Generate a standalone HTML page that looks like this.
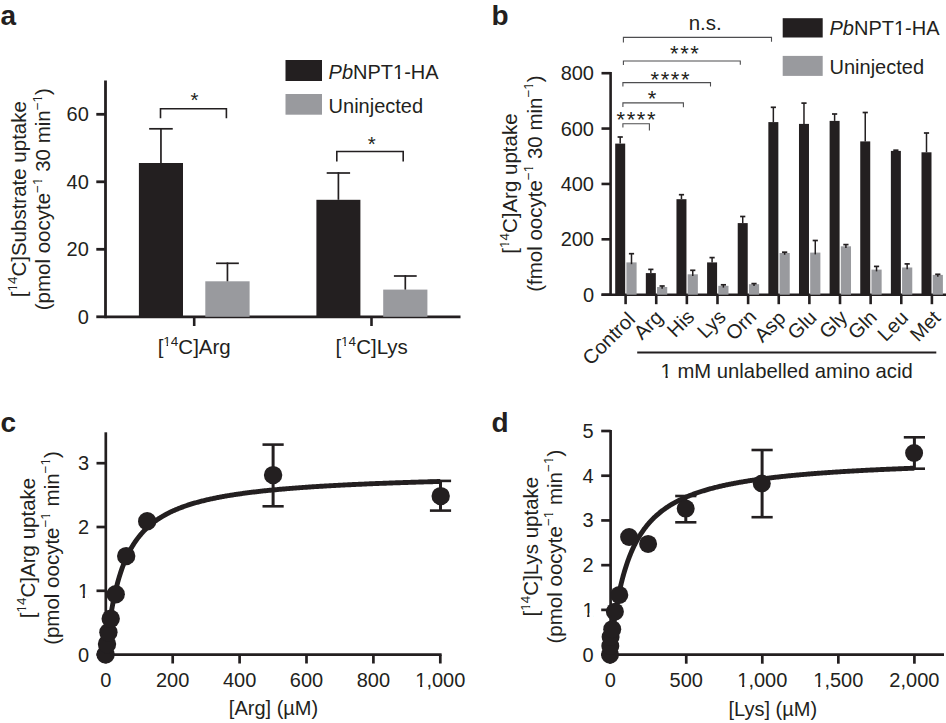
<!DOCTYPE html>
<html><head><meta charset="utf-8"><title>Figure</title>
<style>
html,body{margin:0;padding:0;background:#fff;}
body{width:946px;height:723px;overflow:hidden;}
svg{display:block;}
text{font-family:"Liberation Sans",sans-serif;fill:#231f20;}
</style></head>
<body>
<svg width="946" height="723" viewBox="0 0 946 723">
<rect width="946" height="723" fill="#fff"/>
<text x="0.50" y="24.50" font-size="28" text-anchor="start" font-weight="bold">a</text>
<line x1="105.50" y1="80.50" x2="105.50" y2="318.20" stroke="#231f20" stroke-width="2.8" stroke-linecap="butt"/>
<line x1="96.30" y1="316.80" x2="105.50" y2="316.80" stroke="#231f20" stroke-width="2.8" stroke-linecap="butt"/>
<text x="88.80" y="323.80" font-size="20" text-anchor="end" >0</text>
<line x1="96.30" y1="249.30" x2="105.50" y2="249.30" stroke="#231f20" stroke-width="2.8" stroke-linecap="butt"/>
<text x="88.80" y="256.30" font-size="20" text-anchor="end" >20</text>
<line x1="96.30" y1="181.80" x2="105.50" y2="181.80" stroke="#231f20" stroke-width="2.8" stroke-linecap="butt"/>
<text x="88.80" y="188.80" font-size="20" text-anchor="end" >40</text>
<line x1="96.30" y1="114.30" x2="105.50" y2="114.30" stroke="#231f20" stroke-width="2.8" stroke-linecap="butt"/>
<text x="88.80" y="121.30" font-size="20" text-anchor="end" >60</text>
<line x1="105.50" y1="316.80" x2="460.50" y2="316.80" stroke="#231f20" stroke-width="2.7" stroke-linecap="butt"/>
<line x1="194.20" y1="316.80" x2="194.20" y2="326.00" stroke="#231f20" stroke-width="2.6" stroke-linecap="butt"/>
<line x1="371.50" y1="316.80" x2="371.50" y2="326.00" stroke="#231f20" stroke-width="2.6" stroke-linecap="butt"/>
<rect x="138.90" y="163.00" width="44.10" height="153.80" fill="#231f20"/>
<line x1="160.95" y1="163.00" x2="160.95" y2="128.00" stroke="#231f20" stroke-width="1.7" stroke-linecap="butt"/>
<line x1="149.15" y1="128.80" x2="172.75" y2="128.80" stroke="#231f20" stroke-width="1.7" stroke-linecap="butt"/>
<rect x="205.30" y="281.30" width="44.30" height="35.50" fill="#999a9e"/>
<line x1="227.45" y1="281.30" x2="227.45" y2="262.50" stroke="#231f20" stroke-width="1.7" stroke-linecap="butt"/>
<line x1="216.05" y1="263.30" x2="238.85" y2="263.30" stroke="#231f20" stroke-width="1.7" stroke-linecap="butt"/>
<rect x="316.40" y="199.80" width="44.00" height="117.00" fill="#231f20"/>
<line x1="338.40" y1="199.80" x2="338.40" y2="172.20" stroke="#231f20" stroke-width="1.7" stroke-linecap="butt"/>
<line x1="326.70" y1="173.00" x2="350.10" y2="173.00" stroke="#231f20" stroke-width="1.7" stroke-linecap="butt"/>
<rect x="383.20" y="289.60" width="44.20" height="27.20" fill="#999a9e"/>
<line x1="405.30" y1="289.60" x2="405.30" y2="275.20" stroke="#231f20" stroke-width="1.7" stroke-linecap="butt"/>
<line x1="393.90" y1="276.00" x2="416.70" y2="276.00" stroke="#231f20" stroke-width="1.7" stroke-linecap="butt"/>
<path d="M160.5 118.3 V108.8 H226.4 V118.3" fill="none" stroke="#231f20" stroke-width="1.6"/>
<path d="M336.8 161.6 V151.5 H403.2 V161.6" fill="none" stroke="#231f20" stroke-width="1.6"/>
<text x="194.40" y="107.00" font-size="20.5" text-anchor="middle" >*</text>
<text x="371.80" y="151.00" font-size="20.5" text-anchor="middle" >*</text>
<rect x="285.50" y="60.00" width="36.50" height="21.00" fill="#231f20"/>
<rect x="285.50" y="94.00" width="36.50" height="20.70" fill="#999a9e"/>
<text x="328.60" y="78.90" font-size="20" text-anchor="start" ><tspan font-style="italic">Pb</tspan>NPT1-HA</text>
<text x="328.60" y="113.10" font-size="20" text-anchor="start" >Uninjected</text>
<text x="194.20" y="354.20" font-size="20.5" text-anchor="middle" >[<tspan font-size="13.5" dy="-8.6">14</tspan><tspan dy="8.6">C]</tspan>Arg</text>
<text x="371.60" y="354.20" font-size="20.5" text-anchor="middle" >[<tspan font-size="13.5" dy="-8.6">14</tspan><tspan dy="8.6">C]</tspan>Lys</text>
<g transform="translate(25.7 199.2) rotate(-90)">
<text x="0.00" y="0.00" font-size="20.5" text-anchor="middle" >[<tspan font-size="13.5" dy="-8.6">14</tspan><tspan dy="8.6">C]</tspan>Substrate uptake</text>
<text x="0.00" y="24.60" font-size="20.5" text-anchor="middle" >(pmol oocyte<tspan font-size="13.5" dy="-8.6">−1</tspan><tspan dy="8.6"> 30 min</tspan><tspan font-size="13.5" dy="-8.6">−1</tspan><tspan dy="8.6">)</tspan></text>
</g>
<text x="491.50" y="24.50" font-size="28" text-anchor="start" font-weight="bold">b</text>
<line x1="610.60" y1="72.00" x2="610.60" y2="294.70" stroke="#231f20" stroke-width="2.6" stroke-linecap="butt"/>
<line x1="601.50" y1="294.70" x2="610.60" y2="294.70" stroke="#231f20" stroke-width="2.6" stroke-linecap="butt"/>
<text x="594.00" y="301.70" font-size="20" text-anchor="end" >0</text>
<line x1="601.50" y1="239.32" x2="610.60" y2="239.32" stroke="#231f20" stroke-width="2.6" stroke-linecap="butt"/>
<text x="594.00" y="246.32" font-size="20" text-anchor="end" >200</text>
<line x1="601.50" y1="183.95" x2="610.60" y2="183.95" stroke="#231f20" stroke-width="2.6" stroke-linecap="butt"/>
<text x="594.00" y="190.95" font-size="20" text-anchor="end" >400</text>
<line x1="601.50" y1="128.57" x2="610.60" y2="128.57" stroke="#231f20" stroke-width="2.6" stroke-linecap="butt"/>
<text x="594.00" y="135.57" font-size="20" text-anchor="end" >600</text>
<line x1="601.50" y1="73.20" x2="610.60" y2="73.20" stroke="#231f20" stroke-width="2.6" stroke-linecap="butt"/>
<text x="594.00" y="80.20" font-size="20" text-anchor="end" >800</text>
<line x1="601.50" y1="294.70" x2="946.00" y2="294.70" stroke="#231f20" stroke-width="2.6" stroke-linecap="butt"/>
<rect x="615.20" y="143.60" width="10.00" height="151.10" fill="#231f20"/>
<rect x="626.40" y="262.40" width="10.20" height="32.30" fill="#999a9e"/>
<line x1="620.20" y1="143.60" x2="620.20" y2="137.00" stroke="#231f20" stroke-width="1.5" stroke-linecap="butt"/>
<line x1="617.60" y1="137.00" x2="622.80" y2="137.00" stroke="#231f20" stroke-width="1.7" stroke-linecap="butt"/>
<line x1="631.50" y1="264.20" x2="631.50" y2="253.70" stroke="#231f20" stroke-width="1.5" stroke-linecap="butt"/>
<line x1="628.90" y1="253.70" x2="634.10" y2="253.70" stroke="#231f20" stroke-width="1.7" stroke-linecap="butt"/>
<line x1="625.60" y1="294.70" x2="625.60" y2="304.20" stroke="#231f20" stroke-width="2.6" stroke-linecap="butt"/>
<text transform="translate(636.30 320.70) rotate(-45)" font-size="20" text-anchor="end">Control</text>
<rect x="645.83" y="273.10" width="10.00" height="21.60" fill="#231f20"/>
<rect x="657.03" y="287.00" width="10.20" height="7.70" fill="#999a9e"/>
<line x1="650.83" y1="273.10" x2="650.83" y2="269.40" stroke="#231f20" stroke-width="1.5" stroke-linecap="butt"/>
<line x1="648.23" y1="269.40" x2="653.43" y2="269.40" stroke="#231f20" stroke-width="1.7" stroke-linecap="butt"/>
<line x1="662.13" y1="288.80" x2="662.13" y2="286.00" stroke="#231f20" stroke-width="1.5" stroke-linecap="butt"/>
<line x1="659.53" y1="286.00" x2="664.73" y2="286.00" stroke="#231f20" stroke-width="1.7" stroke-linecap="butt"/>
<line x1="656.23" y1="294.70" x2="656.23" y2="304.20" stroke="#231f20" stroke-width="2.6" stroke-linecap="butt"/>
<text transform="translate(664.03 318.70) rotate(-45)" font-size="20" text-anchor="end">Arg</text>
<rect x="676.46" y="199.20" width="10.00" height="95.50" fill="#231f20"/>
<rect x="687.66" y="274.30" width="10.20" height="20.40" fill="#999a9e"/>
<line x1="681.46" y1="199.20" x2="681.46" y2="194.70" stroke="#231f20" stroke-width="1.5" stroke-linecap="butt"/>
<line x1="678.86" y1="194.70" x2="684.06" y2="194.70" stroke="#231f20" stroke-width="1.7" stroke-linecap="butt"/>
<line x1="692.76" y1="276.10" x2="692.76" y2="270.30" stroke="#231f20" stroke-width="1.5" stroke-linecap="butt"/>
<line x1="690.16" y1="270.30" x2="695.36" y2="270.30" stroke="#231f20" stroke-width="1.7" stroke-linecap="butt"/>
<line x1="686.86" y1="294.70" x2="686.86" y2="304.20" stroke="#231f20" stroke-width="2.6" stroke-linecap="butt"/>
<text transform="translate(695.66 318.10) rotate(-45)" font-size="20" text-anchor="end">His</text>
<rect x="707.09" y="262.40" width="10.00" height="32.30" fill="#231f20"/>
<rect x="718.29" y="285.80" width="10.20" height="8.90" fill="#999a9e"/>
<line x1="712.09" y1="262.40" x2="712.09" y2="257.60" stroke="#231f20" stroke-width="1.5" stroke-linecap="butt"/>
<line x1="709.49" y1="257.60" x2="714.69" y2="257.60" stroke="#231f20" stroke-width="1.7" stroke-linecap="butt"/>
<line x1="723.39" y1="287.60" x2="723.39" y2="284.80" stroke="#231f20" stroke-width="1.5" stroke-linecap="butt"/>
<line x1="720.79" y1="284.80" x2="725.99" y2="284.80" stroke="#231f20" stroke-width="1.7" stroke-linecap="butt"/>
<line x1="717.49" y1="294.70" x2="717.49" y2="304.20" stroke="#231f20" stroke-width="2.6" stroke-linecap="butt"/>
<text transform="translate(726.99 318.10) rotate(-45)" font-size="20" text-anchor="end">Lys</text>
<rect x="737.72" y="223.10" width="10.00" height="71.60" fill="#231f20"/>
<rect x="748.92" y="284.20" width="10.20" height="10.50" fill="#999a9e"/>
<line x1="742.72" y1="223.10" x2="742.72" y2="216.50" stroke="#231f20" stroke-width="1.5" stroke-linecap="butt"/>
<line x1="740.12" y1="216.50" x2="745.32" y2="216.50" stroke="#231f20" stroke-width="1.7" stroke-linecap="butt"/>
<line x1="754.02" y1="286.00" x2="754.02" y2="283.60" stroke="#231f20" stroke-width="1.5" stroke-linecap="butt"/>
<line x1="751.42" y1="283.60" x2="756.62" y2="283.60" stroke="#231f20" stroke-width="1.7" stroke-linecap="butt"/>
<line x1="748.12" y1="294.70" x2="748.12" y2="304.20" stroke="#231f20" stroke-width="2.6" stroke-linecap="butt"/>
<text transform="translate(757.62 317.90) rotate(-45)" font-size="20" text-anchor="end">Orn</text>
<rect x="768.35" y="122.10" width="10.00" height="172.60" fill="#231f20"/>
<rect x="779.55" y="253.00" width="10.20" height="41.70" fill="#999a9e"/>
<line x1="773.35" y1="122.10" x2="773.35" y2="107.30" stroke="#231f20" stroke-width="1.5" stroke-linecap="butt"/>
<line x1="770.75" y1="107.30" x2="775.95" y2="107.30" stroke="#231f20" stroke-width="1.7" stroke-linecap="butt"/>
<line x1="784.65" y1="254.80" x2="784.65" y2="252.20" stroke="#231f20" stroke-width="1.5" stroke-linecap="butt"/>
<line x1="782.05" y1="252.20" x2="787.25" y2="252.20" stroke="#231f20" stroke-width="1.7" stroke-linecap="butt"/>
<line x1="778.75" y1="294.70" x2="778.75" y2="304.20" stroke="#231f20" stroke-width="2.6" stroke-linecap="butt"/>
<text transform="translate(786.75 319.20) rotate(-45)" font-size="20" text-anchor="end">Asp</text>
<rect x="798.98" y="123.90" width="10.00" height="170.80" fill="#231f20"/>
<rect x="810.18" y="252.60" width="10.20" height="42.10" fill="#999a9e"/>
<line x1="803.98" y1="123.90" x2="803.98" y2="103.10" stroke="#231f20" stroke-width="1.5" stroke-linecap="butt"/>
<line x1="801.38" y1="103.10" x2="806.58" y2="103.10" stroke="#231f20" stroke-width="1.7" stroke-linecap="butt"/>
<line x1="815.28" y1="254.40" x2="815.28" y2="240.50" stroke="#231f20" stroke-width="1.5" stroke-linecap="butt"/>
<line x1="812.68" y1="240.50" x2="817.88" y2="240.50" stroke="#231f20" stroke-width="1.7" stroke-linecap="butt"/>
<line x1="809.38" y1="294.70" x2="809.38" y2="304.20" stroke="#231f20" stroke-width="2.6" stroke-linecap="butt"/>
<text transform="translate(817.88 318.80) rotate(-45)" font-size="20" text-anchor="end">Glu</text>
<rect x="829.61" y="120.90" width="10.00" height="173.80" fill="#231f20"/>
<rect x="840.81" y="246.30" width="10.20" height="48.40" fill="#999a9e"/>
<line x1="834.61" y1="120.90" x2="834.61" y2="114.00" stroke="#231f20" stroke-width="1.5" stroke-linecap="butt"/>
<line x1="832.01" y1="114.00" x2="837.21" y2="114.00" stroke="#231f20" stroke-width="1.7" stroke-linecap="butt"/>
<line x1="845.91" y1="248.10" x2="845.91" y2="244.60" stroke="#231f20" stroke-width="1.5" stroke-linecap="butt"/>
<line x1="843.31" y1="244.60" x2="848.51" y2="244.60" stroke="#231f20" stroke-width="1.7" stroke-linecap="butt"/>
<line x1="840.01" y1="294.70" x2="840.01" y2="304.20" stroke="#231f20" stroke-width="2.6" stroke-linecap="butt"/>
<text transform="translate(848.61 318.60) rotate(-45)" font-size="20" text-anchor="end">Gly</text>
<rect x="860.24" y="141.40" width="10.00" height="153.30" fill="#231f20"/>
<rect x="871.44" y="269.60" width="10.20" height="25.10" fill="#999a9e"/>
<line x1="865.24" y1="141.40" x2="865.24" y2="112.50" stroke="#231f20" stroke-width="1.5" stroke-linecap="butt"/>
<line x1="862.64" y1="112.50" x2="867.84" y2="112.50" stroke="#231f20" stroke-width="1.7" stroke-linecap="butt"/>
<line x1="876.54" y1="271.40" x2="876.54" y2="266.40" stroke="#231f20" stroke-width="1.5" stroke-linecap="butt"/>
<line x1="873.94" y1="266.40" x2="879.14" y2="266.40" stroke="#231f20" stroke-width="1.7" stroke-linecap="butt"/>
<line x1="870.64" y1="294.70" x2="870.64" y2="304.20" stroke="#231f20" stroke-width="2.6" stroke-linecap="butt"/>
<text transform="translate(878.24 318.60) rotate(-45)" font-size="20" text-anchor="end">Gln</text>
<rect x="890.87" y="150.90" width="10.00" height="143.80" fill="#231f20"/>
<rect x="902.07" y="267.50" width="10.20" height="27.20" fill="#999a9e"/>
<line x1="895.87" y1="150.90" x2="895.87" y2="150.20" stroke="#231f20" stroke-width="1.5" stroke-linecap="butt"/>
<line x1="893.27" y1="150.20" x2="898.47" y2="150.20" stroke="#231f20" stroke-width="1.7" stroke-linecap="butt"/>
<line x1="907.17" y1="269.30" x2="907.17" y2="263.90" stroke="#231f20" stroke-width="1.5" stroke-linecap="butt"/>
<line x1="904.57" y1="263.90" x2="909.77" y2="263.90" stroke="#231f20" stroke-width="1.7" stroke-linecap="butt"/>
<line x1="901.27" y1="294.70" x2="901.27" y2="304.20" stroke="#231f20" stroke-width="2.6" stroke-linecap="butt"/>
<text transform="translate(909.37 318.90) rotate(-45)" font-size="20" text-anchor="end">Leu</text>
<rect x="921.50" y="152.30" width="10.00" height="142.40" fill="#231f20"/>
<rect x="932.70" y="274.90" width="10.20" height="19.80" fill="#999a9e"/>
<line x1="926.50" y1="152.30" x2="926.50" y2="133.00" stroke="#231f20" stroke-width="1.5" stroke-linecap="butt"/>
<line x1="923.90" y1="133.00" x2="929.10" y2="133.00" stroke="#231f20" stroke-width="1.7" stroke-linecap="butt"/>
<line x1="937.80" y1="276.70" x2="937.80" y2="274.30" stroke="#231f20" stroke-width="1.5" stroke-linecap="butt"/>
<line x1="935.20" y1="274.30" x2="940.40" y2="274.30" stroke="#231f20" stroke-width="1.7" stroke-linecap="butt"/>
<line x1="931.90" y1="294.70" x2="931.90" y2="304.20" stroke="#231f20" stroke-width="2.6" stroke-linecap="butt"/>
<text transform="translate(941.75 319.05) rotate(-45)" font-size="20" text-anchor="end">Met</text>
<path d="M623.4 42.6 V37.4 H771.5 V41.8" fill="none" stroke="#4d4d4f" stroke-width="1.1"/>
<path d="M623.4 65.0 V61.0 H740.3 V64.8" fill="none" stroke="#4d4d4f" stroke-width="1.1"/>
<path d="M622.9 86.6 V82.6 H710.5 V86.6" fill="none" stroke="#4d4d4f" stroke-width="1.1"/>
<path d="M622.9 106.9 V102.9 H683.4 V107.2" fill="none" stroke="#4d4d4f" stroke-width="1.1"/>
<path d="M622.9 127.5 V123.7 H649.4 V130.6" fill="none" stroke="#4d4d4f" stroke-width="1.1"/>
<text x="705.20" y="29.90" font-size="20.5" text-anchor="middle" >n.s.</text>
<g letter-spacing="1.6">
<text x="685.30" y="60.80" font-size="22" text-anchor="middle" >***</text>
<text x="670.80" y="86.60" font-size="22" text-anchor="middle" >****</text>
<text x="652.80" y="105.60" font-size="22" text-anchor="middle" >*</text>
<text x="636.80" y="127.00" font-size="22" text-anchor="middle" >****</text>
</g>
<rect x="782.70" y="18.20" width="40.00" height="19.30" fill="#231f20"/>
<rect x="782.70" y="55.90" width="40.00" height="20.00" fill="#999a9e"/>
<text x="829.50" y="35.10" font-size="20" text-anchor="start" ><tspan font-style="italic">Pb</tspan>NPT1-HA</text>
<text x="829.50" y="73.60" font-size="20" text-anchor="start" >Uninjected</text>
<line x1="637.20" y1="352.50" x2="936.30" y2="352.50" stroke="#231f20" stroke-width="2.2" stroke-linecap="butt"/>
<text x="660.60" y="378.00" font-size="20.25" text-anchor="start" >1 mM unlabelled amino acid</text>
<g transform="translate(517.4 183.6) rotate(-90)">
<text x="0.00" y="0.00" font-size="20.5" text-anchor="middle" >[<tspan font-size="13.5" dy="-8.6">14</tspan><tspan dy="8.6">C]</tspan>Arg uptake</text>
<text x="0.00" y="24.20" font-size="20.5" text-anchor="middle" >(fmol oocyte<tspan font-size="13.5" dy="-8.6">−1</tspan><tspan dy="8.6"> 30 min</tspan><tspan font-size="13.5" dy="-8.6">−1</tspan><tspan dy="8.6">)</tspan></text>
</g>
<text x="0.50" y="432.00" font-size="28" text-anchor="start" font-weight="bold">c</text>
<line x1="105.80" y1="432.30" x2="105.80" y2="654.60" stroke="#231f20" stroke-width="2.7" stroke-linecap="butt"/>
<line x1="96.50" y1="654.60" x2="105.80" y2="654.60" stroke="#231f20" stroke-width="2.7" stroke-linecap="butt"/>
<text x="89.00" y="661.60" font-size="20" text-anchor="end" >0</text>
<line x1="96.50" y1="590.80" x2="105.80" y2="590.80" stroke="#231f20" stroke-width="2.7" stroke-linecap="butt"/>
<text x="89.00" y="597.80" font-size="20" text-anchor="end" >1</text>
<line x1="96.50" y1="527.00" x2="105.80" y2="527.00" stroke="#231f20" stroke-width="2.7" stroke-linecap="butt"/>
<text x="89.00" y="534.00" font-size="20" text-anchor="end" >2</text>
<line x1="96.50" y1="463.20" x2="105.80" y2="463.20" stroke="#231f20" stroke-width="2.7" stroke-linecap="butt"/>
<text x="89.00" y="470.20" font-size="20" text-anchor="end" >3</text>
<line x1="105.80" y1="654.60" x2="441.60" y2="654.60" stroke="#231f20" stroke-width="2.7" stroke-linecap="butt"/>
<line x1="105.80" y1="654.60" x2="105.80" y2="663.50" stroke="#231f20" stroke-width="2.7" stroke-linecap="butt"/>
<text x="105.80" y="686.60" font-size="20" text-anchor="middle" >0</text>
<line x1="172.70" y1="654.60" x2="172.70" y2="663.50" stroke="#231f20" stroke-width="2.7" stroke-linecap="butt"/>
<text x="172.70" y="686.60" font-size="20" text-anchor="middle" >200</text>
<line x1="239.60" y1="654.60" x2="239.60" y2="663.50" stroke="#231f20" stroke-width="2.7" stroke-linecap="butt"/>
<text x="239.60" y="686.60" font-size="20" text-anchor="middle" >400</text>
<line x1="306.50" y1="654.60" x2="306.50" y2="663.50" stroke="#231f20" stroke-width="2.7" stroke-linecap="butt"/>
<text x="306.50" y="686.60" font-size="20" text-anchor="middle" >600</text>
<line x1="373.40" y1="654.60" x2="373.40" y2="663.50" stroke="#231f20" stroke-width="2.7" stroke-linecap="butt"/>
<text x="373.40" y="686.60" font-size="20" text-anchor="middle" >800</text>
<line x1="440.30" y1="654.60" x2="440.30" y2="663.50" stroke="#231f20" stroke-width="2.7" stroke-linecap="butt"/>
<text x="440.30" y="686.60" font-size="20" text-anchor="middle" >1,000</text>
<text x="273.50" y="715.00" font-size="20" text-anchor="middle" >[Arg] (µM)</text>
<path d="M105.80 654.60 L105.82 654.37 L105.87 653.90 L105.93 653.27 L106.01 652.50 L106.10 651.62 L106.20 650.63 L106.32 649.55 L106.44 648.39 L106.57 647.15 L106.71 645.85 L106.86 644.49 L107.02 643.08 L107.19 641.61 L107.37 640.11 L107.55 638.57 L107.74 636.99 L107.94 635.38 L108.14 633.75 L108.35 632.10 L108.57 630.43 L108.80 628.75 L109.03 627.05 L109.27 625.35 L109.51 623.64 L109.76 621.92 L110.02 620.20 L110.28 618.49 L110.55 616.77 L110.82 615.06 L111.10 613.35 L111.39 611.65 L111.68 609.96 L111.98 608.28 L112.28 606.61 L112.59 604.95 L112.90 603.31 L113.22 601.68 L113.54 600.06 L113.87 598.46 L114.20 596.87 L114.54 595.30 L114.88 593.74 L115.23 592.21 L115.59 590.69 L115.94 589.19 L116.31 587.70 L116.68 586.24 L117.05 584.79 L117.43 583.36 L117.81 581.96 L118.19 580.57 L118.59 579.19 L118.98 577.84 L119.38 576.51 L119.79 575.19 L120.19 573.90 L120.61 572.62 L121.03 571.36 L121.45 570.12 L121.87 568.90 L122.31 567.70 L122.74 566.51 L123.18 565.35 L123.62 564.20 L124.07 563.06 L124.52 561.95 L124.98 560.85 L125.44 559.77 L125.90 558.71 L126.37 557.66 L126.84 556.63 L127.32 555.62 L127.80 554.62 L128.28 553.63 L128.77 552.67 L129.26 551.71 L129.76 550.78 L130.26 549.85 L130.76 548.94 L131.27 548.05 L131.78 547.17 L132.30 546.30 L132.82 545.45 L133.34 544.61 L133.87 543.79 L134.40 542.97 L134.93 542.17 L135.47 541.38 L136.01 540.61 L136.55 539.84 L137.10 539.09 L137.65 538.35 L138.21 537.62 L138.77 536.91 L139.33 536.20 L139.90 535.51 L140.47 534.82 L141.04 534.15 L141.62 533.48 L142.20 532.83 L142.78 532.19 L143.37 531.55 L143.96 530.93 L144.56 530.31 L145.16 529.71 L145.76 529.11 L146.36 528.52 L146.97 527.95 L147.58 527.38 L148.20 526.81 L148.81 526.26 L149.44 525.72 L150.06 525.18 L150.69 524.65 L151.32 524.13 L151.96 523.61 L152.59 523.11 L153.24 522.61 L153.88 522.12 L154.53 521.63 L155.18 521.15 L155.84 520.68 L156.49 520.22 L157.15 519.76 L157.82 519.31 L158.49 518.86 L159.16 518.42 L159.83 517.99 L160.51 517.57 L161.19 517.14 L161.87 516.73 L162.56 516.32 L163.25 515.92 L163.94 515.52 L164.63 515.13 L165.33 514.74 L166.04 514.36 L166.74 513.98 L167.45 513.61 L168.16 513.24 L168.87 512.88 L169.59 512.52 L170.31 512.17 L171.03 511.82 L171.76 511.48 L172.49 511.14 L173.22 510.81 L173.96 510.48 L174.70 510.15 L175.44 509.83 L176.18 509.51 L176.93 509.20 L177.68 508.89 L178.43 508.58 L179.19 508.28 L179.95 507.98 L180.71 507.69 L181.47 507.40 L182.24 507.11 L183.01 506.83 L183.79 506.55 L184.56 506.27 L185.34 506.00 L186.12 505.73 L186.91 505.46 L187.70 505.20 L188.49 504.94 L189.28 504.69 L190.08 504.43 L190.88 504.18 L191.68 503.93 L192.49 503.69 L193.29 503.45 L194.10 503.21 L194.92 502.97 L195.73 502.74 L196.55 502.51 L197.37 502.28 L198.20 502.05 L199.03 501.83 L199.86 501.61 L200.69 501.39 L201.52 501.18 L202.36 500.97 L203.20 500.76 L204.05 500.55 L204.89 500.34 L205.74 500.14 L206.60 499.94 L207.45 499.74 L208.31 499.54 L209.17 499.35 L210.03 499.16 L210.90 498.97 L211.76 498.78 L212.63 498.59 L213.51 498.41 L214.38 498.23 L215.26 498.05 L216.14 497.87 L217.03 497.69 L217.91 497.52 L218.80 497.34 L219.70 497.17 L220.59 497.00 L221.49 496.84 L222.39 496.67 L223.29 496.51 L224.20 496.35 L225.10 496.19 L226.01 496.03 L226.93 495.87 L227.84 495.71 L228.76 495.56 L229.68 495.41 L230.60 495.26 L231.53 495.11 L232.46 494.96 L233.39 494.82 L234.32 494.67 L235.26 494.53 L236.20 494.39 L237.14 494.24 L238.08 494.11 L239.03 493.97 L239.98 493.83 L240.93 493.70 L241.88 493.56 L242.84 493.43 L243.80 493.30 L244.76 493.17 L245.72 493.04 L246.69 492.91 L247.66 492.79 L248.63 492.66 L249.60 492.54 L250.58 492.42 L251.55 492.29 L252.54 492.17 L253.52 492.05 L254.51 491.94 L255.49 491.82 L256.49 491.70 L257.48 491.59 L258.47 491.47 L259.47 491.36 L260.47 491.25 L261.48 491.14 L262.48 491.03 L263.49 490.92 L264.50 490.81 L265.51 490.71 L266.53 490.60 L267.55 490.50 L268.57 490.39 L269.59 490.29 L270.61 490.19 L271.64 490.09 L272.67 489.99 L273.70 489.89 L274.74 489.79 L275.77 489.69 L276.81 489.59 L277.85 489.50 L278.90 489.40 L279.94 489.31 L280.99 489.21 L282.04 489.12 L283.10 489.03 L284.15 488.94 L285.21 488.85 L286.27 488.76 L287.34 488.67 L288.40 488.58 L289.47 488.49 L290.54 488.41 L291.61 488.32 L292.68 488.24 L293.76 488.15 L294.84 488.07 L295.92 487.99 L297.00 487.90 L298.09 487.82 L299.18 487.74 L300.27 487.66 L301.36 487.58 L302.46 487.50 L303.56 487.42 L304.66 487.35 L305.76 487.27 L306.86 487.19 L307.97 487.12 L309.08 487.04 L310.19 486.97 L311.30 486.89 L312.42 486.82 L313.54 486.74 L314.66 486.67 L315.78 486.60 L316.90 486.53 L318.03 486.46 L319.16 486.39 L320.29 486.32 L321.42 486.25 L322.56 486.18 L323.70 486.11 L324.84 486.05 L325.98 485.98 L327.13 485.91 L328.27 485.85 L329.42 485.78 L330.57 485.72 L331.73 485.65 L332.88 485.59 L334.04 485.52 L335.20 485.46 L336.37 485.40 L337.53 485.34 L338.70 485.27 L339.87 485.21 L341.04 485.15 L342.21 485.09 L343.39 485.03 L344.57 484.97 L345.75 484.91 L346.93 484.85 L348.11 484.80 L349.30 484.74 L350.49 484.68 L351.68 484.62 L352.87 484.57 L354.07 484.51 L355.27 484.46 L356.47 484.40 L357.67 484.35 L358.87 484.29 L360.08 484.24 L361.29 484.18 L362.50 484.13 L363.71 484.08 L364.92 484.02 L366.14 483.97 L367.36 483.92 L368.58 483.87 L369.80 483.82 L371.03 483.77 L372.26 483.72 L373.49 483.67 L374.72 483.62 L375.95 483.57 L377.19 483.52 L378.43 483.47 L379.67 483.42 L380.91 483.37 L382.15 483.33 L383.40 483.28 L384.65 483.23 L385.90 483.18 L387.15 483.14 L388.41 483.09 L389.66 483.05 L390.92 483.00 L392.19 482.95 L393.45 482.91 L394.71 482.86 L395.98 482.82 L397.25 482.78 L398.52 482.73 L399.80 482.69 L401.07 482.65 L402.35 482.60 L403.63 482.56 L404.91 482.52 L406.20 482.48 L407.48 482.43 L408.77 482.39 L410.06 482.35 L411.35 482.31 L412.65 482.27 L413.94 482.23 L415.24 482.19 L416.54 482.15 L417.85 482.11 L419.15 482.07 L420.46 482.03 L421.77 481.99 L423.08 481.95 L424.39 481.91 L425.70 481.88 L427.02 481.84 L428.34 481.80 L429.66 481.76 L430.98 481.72 L432.31 481.69 L433.64 481.65 L434.96 481.61 L436.30 481.58 L437.63 481.54 L438.96 481.50 L440.30 481.47" fill="none" stroke="#231f20" stroke-width="4.9"/>
<line x1="273.10" y1="444.60" x2="273.10" y2="506.30" stroke="#231f20" stroke-width="3.0" stroke-linecap="butt"/>
<line x1="262.50" y1="444.60" x2="283.70" y2="444.60" stroke="#231f20" stroke-width="2.6" stroke-linecap="butt"/>
<line x1="262.50" y1="506.30" x2="283.70" y2="506.30" stroke="#231f20" stroke-width="2.6" stroke-linecap="butt"/>
<line x1="440.50" y1="480.90" x2="440.50" y2="510.60" stroke="#231f20" stroke-width="3.0" stroke-linecap="butt"/>
<line x1="429.90" y1="480.90" x2="451.10" y2="480.90" stroke="#231f20" stroke-width="2.6" stroke-linecap="butt"/>
<line x1="429.90" y1="510.60" x2="451.10" y2="510.60" stroke="#231f20" stroke-width="2.6" stroke-linecap="butt"/>
<circle cx="105.60" cy="654.40" r="9.2" fill="#231f20"/>
<circle cx="107.00" cy="644.00" r="9.2" fill="#231f20"/>
<circle cx="108.40" cy="632.30" r="9.2" fill="#231f20"/>
<circle cx="110.70" cy="618.70" r="9.2" fill="#231f20"/>
<circle cx="115.70" cy="594.20" r="9.2" fill="#231f20"/>
<circle cx="126.20" cy="556.10" r="9.2" fill="#231f20"/>
<circle cx="147.20" cy="521.30" r="9.2" fill="#231f20"/>
<circle cx="273.10" cy="475.10" r="9.2" fill="#231f20"/>
<circle cx="440.70" cy="496.10" r="9.2" fill="#231f20"/>
<g transform="translate(34.8 548) rotate(-90)">
<text x="0.00" y="0.00" font-size="20.5" text-anchor="middle" >[<tspan font-size="13.5" dy="-8.6">14</tspan><tspan dy="8.6">C]</tspan>Arg uptake</text>
<text x="0.00" y="23.90" font-size="20.5" text-anchor="middle" >(pmol oocyte<tspan font-size="13.5" dy="-8.6">−1</tspan><tspan dy="8.6"> min</tspan><tspan font-size="13.5" dy="-8.6">−1</tspan><tspan dy="8.6">)</tspan></text>
</g>
<text x="491.50" y="432.00" font-size="28" text-anchor="start" font-weight="bold">d</text>
<line x1="610.60" y1="430.00" x2="610.60" y2="654.60" stroke="#231f20" stroke-width="2.7" stroke-linecap="butt"/>
<line x1="601.20" y1="654.60" x2="610.60" y2="654.60" stroke="#231f20" stroke-width="2.7" stroke-linecap="butt"/>
<text x="593.50" y="661.60" font-size="20" text-anchor="end" >0</text>
<line x1="601.20" y1="609.88" x2="610.60" y2="609.88" stroke="#231f20" stroke-width="2.7" stroke-linecap="butt"/>
<text x="593.50" y="616.88" font-size="20" text-anchor="end" >1</text>
<line x1="601.20" y1="565.16" x2="610.60" y2="565.16" stroke="#231f20" stroke-width="2.7" stroke-linecap="butt"/>
<text x="593.50" y="572.16" font-size="20" text-anchor="end" >2</text>
<line x1="601.20" y1="520.44" x2="610.60" y2="520.44" stroke="#231f20" stroke-width="2.7" stroke-linecap="butt"/>
<text x="593.50" y="527.44" font-size="20" text-anchor="end" >3</text>
<line x1="601.20" y1="475.72" x2="610.60" y2="475.72" stroke="#231f20" stroke-width="2.7" stroke-linecap="butt"/>
<text x="593.50" y="482.72" font-size="20" text-anchor="end" >4</text>
<line x1="601.20" y1="431.00" x2="610.60" y2="431.00" stroke="#231f20" stroke-width="2.7" stroke-linecap="butt"/>
<text x="593.50" y="438.00" font-size="20" text-anchor="end" >5</text>
<line x1="610.60" y1="654.60" x2="944.00" y2="654.60" stroke="#231f20" stroke-width="2.7" stroke-linecap="butt"/>
<line x1="610.20" y1="654.60" x2="610.20" y2="663.70" stroke="#231f20" stroke-width="2.7" stroke-linecap="butt"/>
<text x="610.20" y="686.80" font-size="20" text-anchor="middle" >0</text>
<line x1="686.25" y1="654.60" x2="686.25" y2="663.70" stroke="#231f20" stroke-width="2.7" stroke-linecap="butt"/>
<text x="686.25" y="686.80" font-size="20" text-anchor="middle" >500</text>
<line x1="762.30" y1="654.60" x2="762.30" y2="663.70" stroke="#231f20" stroke-width="2.7" stroke-linecap="butt"/>
<text x="762.30" y="686.80" font-size="20" text-anchor="middle" >1,000</text>
<line x1="838.35" y1="654.60" x2="838.35" y2="663.70" stroke="#231f20" stroke-width="2.7" stroke-linecap="butt"/>
<text x="838.35" y="686.80" font-size="20" text-anchor="middle" >1,500</text>
<line x1="914.40" y1="654.60" x2="914.40" y2="663.70" stroke="#231f20" stroke-width="2.7" stroke-linecap="butt"/>
<text x="914.40" y="686.80" font-size="20" text-anchor="middle" >2,000</text>
<text x="772.80" y="716.30" font-size="20" text-anchor="middle" >[Lys] (µM)</text>
<path d="M610.20 654.60 L610.22 654.39 L610.26 653.97 L610.32 653.39 L610.39 652.69 L610.47 651.88 L610.57 650.98 L610.67 649.99 L610.78 648.92 L610.90 647.79 L611.03 646.59 L611.17 645.33 L611.31 644.02 L611.47 642.66 L611.62 641.26 L611.79 639.82 L611.96 638.34 L612.14 636.83 L612.33 635.29 L612.52 633.73 L612.72 632.15 L612.93 630.55 L613.14 628.93 L613.35 627.30 L613.57 625.65 L613.80 624.00 L614.04 622.34 L614.27 620.68 L614.52 619.01 L614.77 617.34 L615.02 615.67 L615.28 614.00 L615.55 612.34 L615.82 610.67 L616.09 609.02 L616.37 607.37 L616.66 605.73 L616.95 604.10 L617.24 602.47 L617.54 600.86 L617.84 599.26 L618.15 597.67 L618.46 596.09 L618.78 594.52 L619.10 592.97 L619.43 591.43 L619.76 589.91 L620.09 588.40 L620.43 586.90 L620.77 585.42 L621.12 583.96 L621.47 582.51 L621.83 581.08 L622.19 579.66 L622.55 578.26 L622.92 576.88 L623.29 575.51 L623.67 574.16 L624.05 572.82 L624.43 571.50 L624.82 570.20 L625.21 568.92 L625.61 567.65 L626.01 566.39 L626.41 565.16 L626.82 563.93 L627.23 562.73 L627.64 561.54 L628.06 560.37 L628.48 559.21 L628.91 558.07 L629.34 556.94 L629.77 555.83 L630.21 554.74 L630.65 553.66 L631.09 552.59 L631.54 551.54 L631.99 550.50 L632.44 549.48 L632.90 548.48 L633.36 547.48 L633.83 546.50 L634.30 545.54 L634.77 544.58 L635.24 543.64 L635.72 542.72 L636.21 541.81 L636.69 540.91 L637.18 540.02 L637.67 539.14 L638.17 538.28 L638.67 537.43 L639.17 536.59 L639.67 535.77 L640.18 534.95 L640.69 534.15 L641.21 533.35 L641.73 532.57 L642.25 531.80 L642.77 531.04 L643.30 530.29 L643.83 529.56 L644.37 528.83 L644.91 528.11 L645.45 527.40 L645.99 526.70 L646.54 526.01 L647.09 525.33 L647.64 524.66 L648.20 524.00 L648.76 523.35 L649.32 522.71 L649.88 522.08 L650.45 521.45 L651.02 520.83 L651.60 520.22 L652.18 519.62 L652.76 519.03 L653.34 518.45 L653.93 517.87 L654.52 517.30 L655.11 516.74 L655.70 516.19 L656.30 515.64 L656.90 515.10 L657.51 514.57 L658.11 514.05 L658.72 513.53 L659.34 513.02 L659.95 512.51 L660.57 512.02 L661.19 511.52 L661.82 511.04 L662.44 510.56 L663.07 510.09 L663.71 509.62 L664.34 509.16 L664.98 508.71 L665.62 508.26 L666.26 507.81 L666.91 507.37 L667.56 506.94 L668.21 506.52 L668.87 506.09 L669.53 505.68 L670.19 505.27 L670.85 504.86 L671.52 504.46 L672.18 504.06 L672.86 503.67 L673.53 503.29 L674.21 502.90 L674.89 502.53 L675.57 502.16 L676.25 501.79 L676.94 501.42 L677.63 501.06 L678.32 500.71 L679.02 500.36 L679.72 500.01 L680.42 499.67 L681.12 499.33 L681.83 499.00 L682.54 498.67 L683.25 498.34 L683.96 498.02 L684.68 497.70 L685.40 497.38 L686.12 497.07 L686.84 496.76 L687.57 496.46 L688.30 496.16 L689.03 495.86 L689.77 495.56 L690.50 495.27 L691.24 494.99 L691.99 494.70 L692.73 494.42 L693.48 494.14 L694.23 493.87 L694.98 493.59 L695.74 493.32 L696.49 493.06 L697.25 492.80 L698.02 492.53 L698.78 492.28 L699.55 492.02 L700.32 491.77 L701.09 491.52 L701.86 491.27 L702.64 491.03 L703.42 490.79 L704.20 490.55 L704.99 490.31 L705.78 490.08 L706.56 489.85 L707.36 489.62 L708.15 489.39 L708.95 489.17 L709.75 488.95 L710.55 488.73 L711.35 488.51 L712.16 488.29 L712.97 488.08 L713.78 487.87 L714.59 487.66 L715.41 487.46 L716.23 487.25 L717.05 487.05 L717.87 486.85 L718.70 486.65 L719.52 486.45 L720.35 486.26 L721.19 486.07 L722.02 485.88 L722.86 485.69 L723.70 485.50 L724.54 485.32 L725.38 485.13 L726.23 484.95 L727.08 484.77 L727.93 484.60 L728.78 484.42 L729.64 484.24 L730.50 484.07 L731.36 483.90 L732.22 483.73 L733.09 483.56 L733.95 483.40 L734.82 483.23 L735.70 483.07 L736.57 482.91 L737.45 482.75 L738.32 482.59 L739.21 482.43 L740.09 482.28 L740.97 482.12 L741.86 481.97 L742.75 481.82 L743.64 481.67 L744.54 481.52 L745.44 481.37 L746.33 481.23 L747.24 481.08 L748.14 480.94 L749.04 480.79 L749.95 480.65 L750.86 480.51 L751.77 480.38 L752.69 480.24 L753.61 480.10 L754.52 479.97 L755.45 479.83 L756.37 479.70 L757.29 479.57 L758.22 479.44 L759.15 479.31 L760.08 479.18 L761.02 479.06 L761.95 478.93 L762.89 478.81 L763.83 478.68 L764.78 478.56 L765.72 478.44 L766.67 478.32 L767.62 478.20 L768.57 478.08 L769.52 477.96 L770.48 477.85 L771.44 477.73 L772.40 477.62 L773.36 477.50 L774.32 477.39 L775.29 477.28 L776.26 477.17 L777.23 477.06 L778.20 476.95 L779.18 476.84 L780.16 476.74 L781.13 476.63 L782.12 476.52 L783.10 476.42 L784.08 476.32 L785.07 476.21 L786.06 476.11 L787.05 476.01 L788.05 475.91 L789.04 475.81 L790.04 475.71 L791.04 475.61 L792.04 475.52 L793.05 475.42 L794.06 475.32 L795.06 475.23 L796.07 475.13 L797.09 475.04 L798.10 474.95 L799.12 474.86 L800.14 474.76 L801.16 474.67 L802.18 474.58 L803.21 474.49 L804.23 474.41 L805.26 474.32 L806.29 474.23 L807.33 474.14 L808.36 474.06 L809.40 473.97 L810.44 473.89 L811.48 473.80 L812.52 473.72 L813.57 473.64 L814.61 473.56 L815.66 473.47 L816.71 473.39 L817.77 473.31 L818.82 473.23 L819.88 473.15 L820.94 473.08 L822.00 473.00 L823.06 472.92 L824.13 472.84 L825.20 472.77 L826.27 472.69 L827.34 472.62 L828.41 472.54 L829.49 472.47 L830.56 472.39 L831.64 472.32 L832.72 472.25 L833.81 472.17 L834.89 472.10 L835.98 472.03 L837.07 471.96 L838.16 471.89 L839.25 471.82 L840.35 471.75 L841.44 471.68 L842.54 471.62 L843.64 471.55 L844.75 471.48 L845.85 471.41 L846.96 471.35 L848.07 471.28 L849.18 471.22 L850.29 471.15 L851.40 471.09 L852.52 471.02 L853.64 470.96 L854.76 470.90 L855.88 470.83 L857.01 470.77 L858.13 470.71 L859.26 470.65 L860.39 470.59 L861.52 470.53 L862.65 470.47 L863.79 470.41 L864.93 470.35 L866.07 470.29 L867.21 470.23 L868.35 470.17 L869.50 470.11 L870.64 470.05 L871.79 470.00 L872.94 469.94 L874.10 469.88 L875.25 469.83 L876.41 469.77 L877.57 469.72 L878.73 469.66 L879.89 469.61 L881.05 469.55 L882.22 469.50 L883.39 469.44 L884.56 469.39 L885.73 469.34 L886.90 469.29 L888.08 469.23 L889.25 469.18 L890.43 469.13 L891.61 469.08 L892.80 469.03 L893.98 468.98 L895.17 468.93 L896.35 468.88 L897.54 468.83 L898.74 468.78 L899.93 468.73 L901.13 468.68 L902.32 468.63 L903.52 468.58 L904.72 468.53 L905.93 468.49 L907.13 468.44 L908.34 468.39 L909.55 468.35 L910.76 468.30 L911.97 468.25 L913.18 468.21 L914.40 468.16" fill="none" stroke="#231f20" stroke-width="4.9"/>
<line x1="685.80" y1="496.00" x2="685.80" y2="522.30" stroke="#231f20" stroke-width="3.0" stroke-linecap="butt"/>
<line x1="675.20" y1="496.00" x2="696.40" y2="496.00" stroke="#231f20" stroke-width="2.6" stroke-linecap="butt"/>
<line x1="675.20" y1="522.30" x2="696.40" y2="522.30" stroke="#231f20" stroke-width="2.6" stroke-linecap="butt"/>
<line x1="762.10" y1="450.00" x2="762.10" y2="517.20" stroke="#231f20" stroke-width="3.0" stroke-linecap="butt"/>
<line x1="751.50" y1="450.00" x2="772.70" y2="450.00" stroke="#231f20" stroke-width="2.6" stroke-linecap="butt"/>
<line x1="751.50" y1="517.20" x2="772.70" y2="517.20" stroke="#231f20" stroke-width="2.6" stroke-linecap="butt"/>
<line x1="914.40" y1="437.30" x2="914.40" y2="468.70" stroke="#231f20" stroke-width="3.0" stroke-linecap="butt"/>
<line x1="903.80" y1="437.30" x2="925.00" y2="437.30" stroke="#231f20" stroke-width="2.6" stroke-linecap="butt"/>
<line x1="903.80" y1="468.70" x2="925.00" y2="468.70" stroke="#231f20" stroke-width="2.6" stroke-linecap="butt"/>
<circle cx="610.00" cy="654.70" r="9.0" fill="#231f20"/>
<circle cx="610.30" cy="646.00" r="9.0" fill="#231f20"/>
<circle cx="610.60" cy="637.00" r="9.0" fill="#231f20"/>
<circle cx="612.20" cy="629.20" r="9.0" fill="#231f20"/>
<circle cx="614.90" cy="611.70" r="9.0" fill="#231f20"/>
<circle cx="619.30" cy="594.90" r="9.0" fill="#231f20"/>
<circle cx="629.10" cy="537.00" r="9.0" fill="#231f20"/>
<circle cx="648.10" cy="543.90" r="9.0" fill="#231f20"/>
<circle cx="685.70" cy="508.60" r="9.0" fill="#231f20"/>
<circle cx="761.80" cy="483.50" r="9.0" fill="#231f20"/>
<circle cx="914.10" cy="453.00" r="9.0" fill="#231f20"/>
<g transform="translate(538.2 546.6) rotate(-90)">
<text x="0.00" y="0.00" font-size="20.5" text-anchor="middle" >[<tspan font-size="13.5" dy="-8.6">14</tspan><tspan dy="8.6">C]</tspan>Lys uptake</text>
<text x="0.00" y="23.90" font-size="20.5" text-anchor="middle" >(pmol oocyte<tspan font-size="13.5" dy="-8.6">−1</tspan><tspan dy="8.6"> min</tspan><tspan font-size="13.5" dy="-8.6">−1</tspan><tspan dy="8.6">)</tspan></text>
</g>
<polygon points="393.65,74.99 397.87,74.99 397.87,80.20 393.65,80.20" fill="#fff"/>
<polygon points="400.09,74.99 404.06,74.99 404.06,80.20 400.09,80.20" fill="#fff"/>
<polygon points="163.73,342.96 166.58,342.96 166.58,346.90 163.73,346.90" fill="#fff"/>
<polygon points="168.07,342.96 170.75,342.96 170.75,346.90 168.07,346.90" fill="#fff"/>
<polygon points="341.51,342.96 344.36,342.96 344.36,346.90 341.51,346.90" fill="#fff"/>
<polygon points="345.86,342.96 348.53,342.96 348.53,346.90 345.86,346.90" fill="#fff"/>
<polygon points="14.46,291.22 14.46,288.37 18.40,288.37 18.40,291.22" fill="#fff"/>
<polygon points="14.46,286.87 14.46,284.20 18.40,284.20 18.40,286.87" fill="#fff"/>
<polygon points="39.06,184.69 39.06,181.84 43.00,181.84 43.00,184.69" fill="#fff"/>
<polygon points="39.06,180.34 39.06,177.67 43.00,177.67 43.00,180.34" fill="#fff"/>
<polygon points="39.06,102.05 39.06,99.20 43.00,99.20 43.00,102.05" fill="#fff"/>
<polygon points="39.06,97.70 39.06,95.03 43.00,95.03 43.00,97.70" fill="#fff"/>
<polygon points="894.55,31.19 898.77,31.19 898.77,36.40 894.55,36.40" fill="#fff"/>
<polygon points="900.99,31.19 904.96,31.19 904.96,36.40 900.99,36.40" fill="#fff"/>
<polygon points="661.19,374.04 665.46,374.04 665.46,379.30 661.19,379.30" fill="#fff"/>
<polygon points="667.71,374.04 671.72,374.04 671.72,379.30 667.71,379.30" fill="#fff"/>
<polygon points="506.16,247.70 506.16,244.85 510.10,244.85 510.10,247.70" fill="#fff"/>
<polygon points="506.16,243.35 506.16,240.68 510.10,240.68 510.10,243.35" fill="#fff"/>
<polygon points="530.36,171.94 530.36,169.09 534.30,169.09 534.30,171.94" fill="#fff"/>
<polygon points="530.36,167.59 530.36,164.92 534.30,164.92 534.30,167.59" fill="#fff"/>
<polygon points="530.36,89.30 530.36,86.45 534.30,86.45 534.30,89.30" fill="#fff"/>
<polygon points="530.36,84.95 530.36,82.28 534.30,82.28 534.30,84.95" fill="#fff"/>
<polygon points="78.46,593.89 82.68,593.89 82.68,599.10 78.46,599.10" fill="#fff"/>
<polygon points="84.90,593.89 88.86,593.89 88.86,599.10 84.90,599.10" fill="#fff"/>
<polygon points="415.85,682.69 420.07,682.69 420.07,687.90 415.85,687.90" fill="#fff"/>
<polygon points="422.29,682.69 426.26,682.69 426.26,687.90 422.29,687.90" fill="#fff"/>
<polygon points="23.56,612.10 23.56,609.25 27.50,609.25 27.50,612.10" fill="#fff"/>
<polygon points="23.56,607.75 23.56,605.08 27.50,605.08 27.50,607.75" fill="#fff"/>
<polygon points="47.46,519.24 47.46,516.39 51.40,516.39 51.40,519.24" fill="#fff"/>
<polygon points="47.46,514.89 47.46,512.22 51.40,512.22 51.40,514.89" fill="#fff"/>
<polygon points="47.46,465.10 47.46,462.25 51.40,462.25 51.40,465.10" fill="#fff"/>
<polygon points="47.46,460.75 47.46,458.08 51.40,458.08 51.40,460.75" fill="#fff"/>
<polygon points="582.96,612.97 587.18,612.97 587.18,618.18 582.96,618.18" fill="#fff"/>
<polygon points="589.40,612.97 593.36,612.97 593.36,618.18 589.40,618.18" fill="#fff"/>
<polygon points="737.85,682.89 742.07,682.89 742.07,688.10 737.85,688.10" fill="#fff"/>
<polygon points="744.29,682.89 748.26,682.89 748.26,688.10 744.29,688.10" fill="#fff"/>
<polygon points="813.90,682.89 818.12,682.89 818.12,688.10 813.90,688.10" fill="#fff"/>
<polygon points="820.34,682.89 824.31,682.89 824.31,688.10 820.34,688.10" fill="#fff"/>
<polygon points="526.96,610.31 526.96,607.47 530.90,607.47 530.90,610.31" fill="#fff"/>
<polygon points="526.96,605.97 526.96,603.29 530.90,603.29 530.90,605.97" fill="#fff"/>
<polygon points="550.86,517.84 550.86,514.99 554.80,514.99 554.80,517.84" fill="#fff"/>
<polygon points="550.86,513.49 550.86,510.82 554.80,510.82 554.80,513.49" fill="#fff"/>
<polygon points="550.86,463.70 550.86,460.85 554.80,460.85 554.80,463.70" fill="#fff"/>
<polygon points="550.86,459.35 550.86,456.68 554.80,456.68 554.80,459.35" fill="#fff"/>
</svg>
</body></html>
